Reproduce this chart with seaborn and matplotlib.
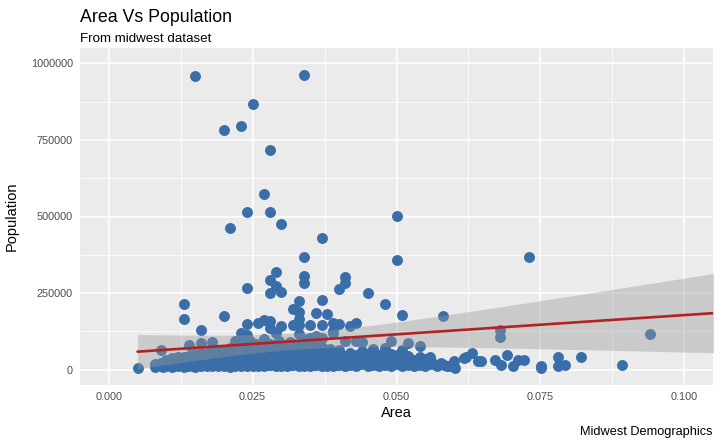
import numpy as np
import pandas as pd
import seaborn as sns
import matplotlib.pyplot as plt

sns.set_theme(style="darkgrid")
plt.rcParams['font.family'] = ['Liberation Sans', 'DejaVu Sans']

# ---- data ----
area_upper = [0.015, 0.034, 0.025, 0.020, 0.023, 0.028, 0.027, 0.024, 0.028, 0.030,
              0.021, 0.037, 0.050, 0.050, 0.034, 0.073, 0.029, 0.028, 0.034, 0.034,
              0.029, 0.030, 0.028, 0.024, 0.041, 0.041, 0.040, 0.045, 0.037, 0.033,
              0.048, 0.013, 0.013, 0.020, 0.032, 0.033, 0.036, 0.038, 0.051, 0.058,
              0.016, 0.024, 0.026, 0.027, 0.028, 0.030, 0.023, 0.009, 0.014, 0.016,
              0.018, 0.005, 0.022, 0.068, 0.068, 0.094, 0.040, 0.042, 0.043, 0.041,
              0.043, 0.044, 0.049, 0.052, 0.054, 0.048, 0.048, 0.050, 0.033, 0.032,
              0.035, 0.037, 0.039, 0.035, 0.037, 0.024, 0.029, 0.036, 0.039, 0.039,
              0.033, 0.028]
pop_upper = [959000, 961000, 866000, 782000, 797000, 717000, 573000, 515000, 516000, 475000,
             462000, 431000, 501000, 358000, 368000, 367000, 318000, 292000, 306000, 282000,
             274000, 254000, 249000, 266000, 303000, 283000, 264000, 250000, 229000, 225000,
             214000, 216000, 167000, 176000, 198000, 189000, 184000, 183000, 179000, 175000,
             128000, 150000, 154000, 163000, 159000, 144000, 121000, 65000, 80000, 87000,
             91000, 5500, 94000, 130000, 108000, 117000, 148000, 141000, 152000, 92000,
             92000, 90000, 92000, 87000, 78000, 71000, 60000, 49000, 165000, 147000,
             146000, 145000, 125000, 103000, 103000, 114000, 119000, 109000, 119000, 152000,
             147000, 136000]

area_sparse = [0.0646, 0.0671, 0.0681, 0.0692, 0.0702, 0.0711, 0.0722, 0.0751, 0.0751, 0.0781,
               0.0781, 0.0792, 0.0821, 0.0891, 0.0577, 0.0591, 0.0600, 0.0601, 0.0620, 0.0632,
               0.0642, 0.0617, 0.0588, 0.0570, 0.0559, 0.0582]
pop_sparse = [27000, 33000, 16000, 49000, 12000, 33000, 33000, 13000, 7000, 43000,
              12000, 15000, 40000, 15000, 22000, 11000, 27000, 5000, 43000, 56000,
              27000, 38000, 11000, 16000, 43000, 16000]

# dense band of small counties (population in thousands)
area_dense = [
    0.008, 0.008, 0.009, 0.009, 0.0095,
    0.010, 0.010, 0.010, 0.0105, 0.0105,
    0.011, 0.011, 0.011, 0.011, 0.0115, 0.0115,
    0.012, 0.012, 0.012, 0.012, 0.0125, 0.0125,
    0.013, 0.013, 0.013, 0.013, 0.0135, 0.0135, 0.0135,
    0.014, 0.014, 0.014, 0.014, 0.0145, 0.0145, 0.0145,
    0.015, 0.015, 0.015, 0.015, 0.015, 0.0155, 0.0155, 0.0155,
    0.016, 0.016, 0.016, 0.016, 0.016, 0.0165, 0.0165, 0.0165,
    0.017, 0.017, 0.017, 0.017, 0.017, 0.0175, 0.0175, 0.0175,
    0.018, 0.018, 0.018, 0.018, 0.018, 0.0185, 0.0185, 0.0185, 0.0185,
    0.019, 0.019, 0.019, 0.019, 0.019, 0.0195, 0.0195, 0.0195, 0.0195,
    0.020, 0.020, 0.020, 0.020, 0.020,
    0.021, 0.021, 0.021, 0.021, 0.021, 0.021, 0.0215, 0.0215, 0.0215, 0.0215,
    0.022, 0.022, 0.022, 0.022, 0.022, 0.022, 0.0225, 0.0225, 0.0225, 0.0225,
    0.023, 0.023, 0.023, 0.023, 0.023, 0.023, 0.023, 0.0235, 0.0235, 0.0235, 0.0235,
    0.024, 0.024, 0.024, 0.024, 0.024, 0.024, 0.0245, 0.0245, 0.0245, 0.0245, 0.0245,
    0.025, 0.025, 0.025, 0.025, 0.025, 0.025, 0.0255, 0.0255, 0.0255, 0.0255, 0.0255,
    0.026, 0.026, 0.026, 0.026, 0.026, 0.026, 0.0265, 0.0265, 0.0265, 0.0265,
    0.027, 0.027, 0.027, 0.027, 0.027, 0.027, 0.027, 0.0275, 0.0275, 0.0275, 0.0275, 0.0275,
    0.028, 0.028, 0.028, 0.028, 0.028, 0.028, 0.0285, 0.0285, 0.0285, 0.0285,
    0.029, 0.029, 0.029, 0.029, 0.029, 0.029, 0.0295, 0.0295, 0.0295, 0.0295, 0.0295,
    0.030, 0.030, 0.030, 0.030, 0.030, 0.030, 0.0305, 0.0305, 0.0305, 0.0305,
    0.031, 0.031, 0.031, 0.031, 0.031, 0.031, 0.0315, 0.0315, 0.0315, 0.0315, 0.0315,
    0.032, 0.032, 0.032, 0.032, 0.032, 0.032, 0.0325, 0.0325, 0.0325, 0.0325,
    0.033, 0.033, 0.033, 0.033, 0.033, 0.033, 0.033, 0.0335, 0.0335, 0.0335, 0.0335,
    0.034, 0.034, 0.034, 0.034, 0.034, 0.034, 0.0345, 0.0345, 0.0345, 0.0345, 0.0345,
    0.035, 0.035, 0.035, 0.035, 0.035, 0.035, 0.0355, 0.0355, 0.0355, 0.0355,
    0.036, 0.036, 0.036, 0.036, 0.036, 0.036, 0.0365, 0.0365, 0.0365, 0.0365,
    0.037, 0.037, 0.037, 0.037, 0.037, 0.037, 0.0375, 0.0375, 0.0375, 0.0375,
    0.038, 0.038, 0.038, 0.038, 0.038, 0.0385, 0.0385, 0.0385, 0.0385,
    0.039, 0.039, 0.039, 0.039, 0.039, 0.0395, 0.0395, 0.0395, 0.0395,
    0.040, 0.040, 0.040, 0.040, 0.040,
    0.041, 0.041, 0.041, 0.041, 0.042, 0.042, 0.042, 0.042,
    0.043, 0.043, 0.043, 0.043, 0.044, 0.044, 0.044, 0.044,
    0.045, 0.045, 0.045, 0.045, 0.046, 0.046, 0.046, 0.046,
    0.047, 0.047, 0.047, 0.047, 0.048, 0.048, 0.048,
    0.049, 0.049, 0.049, 0.049, 0.050, 0.050, 0.050,
    0.051, 0.051, 0.051, 0.051, 0.052, 0.052, 0.052,
    0.053, 0.053, 0.053, 0.054, 0.054, 0.054,
    0.055, 0.055, 0.055, 0.056, 0.056, 0.057]
pop_dense_k = [
    9, 17, 13, 23, 10,
    11, 20, 31, 15, 25,
    9, 19, 29, 39, 14, 24,
    11, 21, 33, 43, 16, 27,
    10, 20, 30, 41, 14, 25, 35,
    12, 22, 32, 45, 17, 27, 38,
    10, 19, 29, 41, 50, 15, 25, 35,
    11, 21, 31, 43, 53, 17, 27, 39,
    13, 23, 33, 45, 55, 16, 29, 41,
    11, 20, 31, 42, 57, 15, 26, 37, 49,
    12, 22, 33, 45, 60, 17, 28, 40, 53,
    13, 23, 34, 47, 65,
    10, 19, 29, 40, 53, 71, 15, 25, 36, 49,
    12, 22, 32, 43, 57, 77, 17, 28, 39, 63,
    11, 20, 30, 41, 53, 69, 89, 15, 26, 37, 50,
    13, 23, 33, 45, 59, 75, 18, 29, 41, 55, 93,
    11, 21, 31, 42, 55, 71, 16, 27, 38, 51, 83,
    13, 23, 34, 46, 61, 79, 18, 29, 40, 55,
    12, 21, 31, 43, 57, 73, 101, 16, 27, 38, 51, 67,
    14, 24, 35, 47, 62, 85, 19, 30, 42, 57,
    11, 21, 32, 44, 58, 77, 16, 27, 39, 53, 95,
    13, 23, 34, 46, 61, 81, 18, 29, 41, 55,
    12, 22, 33, 45, 60, 75, 16, 27, 38, 52, 89,
    14, 24, 35, 48, 63, 83, 19, 30, 42, 57,
    11, 21, 32, 44, 59, 75, 115, 16, 27, 39, 53,
    13, 23, 34, 46, 61, 81, 18, 29, 41, 55, 100,
    12, 22, 33, 45, 60, 77, 16, 27, 38, 52,
    14, 24, 35, 48, 63, 90, 19, 30, 42, 57,
    11, 21, 32, 44, 59, 75, 16, 27, 39, 53,
    13, 23, 34, 46, 62, 18, 29, 41, 67,
    12, 22, 33, 45, 59, 16, 27, 38, 51,
    14, 24, 35, 48, 65,
    11, 21, 32, 45, 15, 26, 38, 55,
    12, 22, 33, 47, 17, 28, 41, 60,
    13, 23, 35, 51, 16, 27, 40, 67,
    11, 21, 33, 49, 15, 26, 39,
    12, 22, 34, 50, 17, 28, 41,
    13, 23, 35, 63, 16, 27, 45,
    11, 21, 33, 15, 26, 40,
    12, 23, 35, 17, 29, 13]

# counties outside the zoomed window (still part of the fit)
area_outside = [0.058, 0.038, 0.028, 0.054, 0.110]
pop_outside = [5105067, 2111687, 1412140, 1083592, 70887]

x_ticks = [0.0, 0.025, 0.05, 0.075, 0.1]
x_labels = ["0.000", "0.025", "0.050", "0.075", "0.100"]
y_ticks = [0, 250000, 500000, 750000, 1000000]
y_labels = ["0", "250000", "500000", "750000", "1000000"]

area = area_upper + area_sparse + area_dense + area_outside
pop = pop_upper + pop_sparse + [p * 1000 for p in pop_dense_k] + pop_outside
df = pd.DataFrame({"area": area, "poptotal": pop})

POINT = "#3A6EA8"
LINE = "#B22222"

fig = plt.figure(figsize=(7.2, 4.45), dpi=100)
fig.patch.set_facecolor("white")
ax = fig.add_axes([80 / 720, 1 - 385 / 445, 633 / 720, 337 / 445])
ax.set_facecolor("#EBEBEB")

sns.regplot(data=df, x="area", y="poptotal", ax=ax, ci=None, truncate=True,
            scatter_kws=dict(s=62, color=POINT, linewidths=0, alpha=1, zorder=1),
            line_kws=dict(color=LINE, linewidth=1.9, zorder=3))

# standard-error band of the linear fit (as ggplot's geom_smooth(method="lm"))
xv = df["area"].to_numpy(float)
yv = df["poptotal"].to_numpy(float)
n = len(xv)
slope, icpt = np.polyfit(xv, yv, 1)
grid = np.linspace(xv.min(), xv.max(), 200)
resid = yv - (icpt + slope * xv)
s = np.sqrt((resid ** 2).sum() / (n - 2))
sxx = ((xv - xv.mean()) ** 2).sum()
se = s * np.sqrt(1 / n + (grid - xv.mean()) ** 2 / sxx)
fit = icpt + slope * grid
ax.fill_between(grid, fit - 1.967 * se, fit + 1.967 * se, color="#999999",
                alpha=0.4, linewidth=0, zorder=2)

ax.set_xlim(-0.005, 0.105)
ax.set_ylim(-50000, 1050000)
ax.set_xticks(x_ticks)
ax.set_xticklabels(x_labels)
ax.set_yticks(y_ticks)
ax.set_yticklabels(y_labels)
ax.set_xticks([0.0125, 0.0375, 0.0625, 0.0875], minor=True)
ax.set_yticks([125000, 375000, 625000, 875000], minor=True)
ax.set_axisbelow(True)
ax.grid(which="major", color="white", linewidth=1.1)
ax.grid(which="minor", color="white", linewidth=0.55)
for sp in ax.spines.values():
    sp.set_visible(False)
ax.tick_params(which="major", length=3, width=0.6, color="#333333",
               labelsize=7.8, labelcolor="#4D4D4D", pad=2)
ax.tick_params(which="minor", length=0)

ax.set_xlabel("Area", fontsize=10.5, color="black")
ax.set_ylabel("Population", fontsize=10.5, color="black")
ax.xaxis.set_label_coords(0.5, -0.062)
ax.yaxis.set_label_coords(-0.097, 0.5)

fig.text(80 / 720, 1 - 21.7 / 445, "Area Vs Population", fontsize=12.8,
         ha="left", va="baseline", color="black")
fig.text(80 / 720, 1 - 41.7 / 445, "From midwest dataset", fontsize=9.6,
         ha="left", va="baseline", color="black")
fig.text(713 / 720, 1 - 435 / 445, "Midwest Demographics", fontsize=9.2,
         ha="right", va="baseline", color="black")

fig.savefig("out.png", dpi=100)
